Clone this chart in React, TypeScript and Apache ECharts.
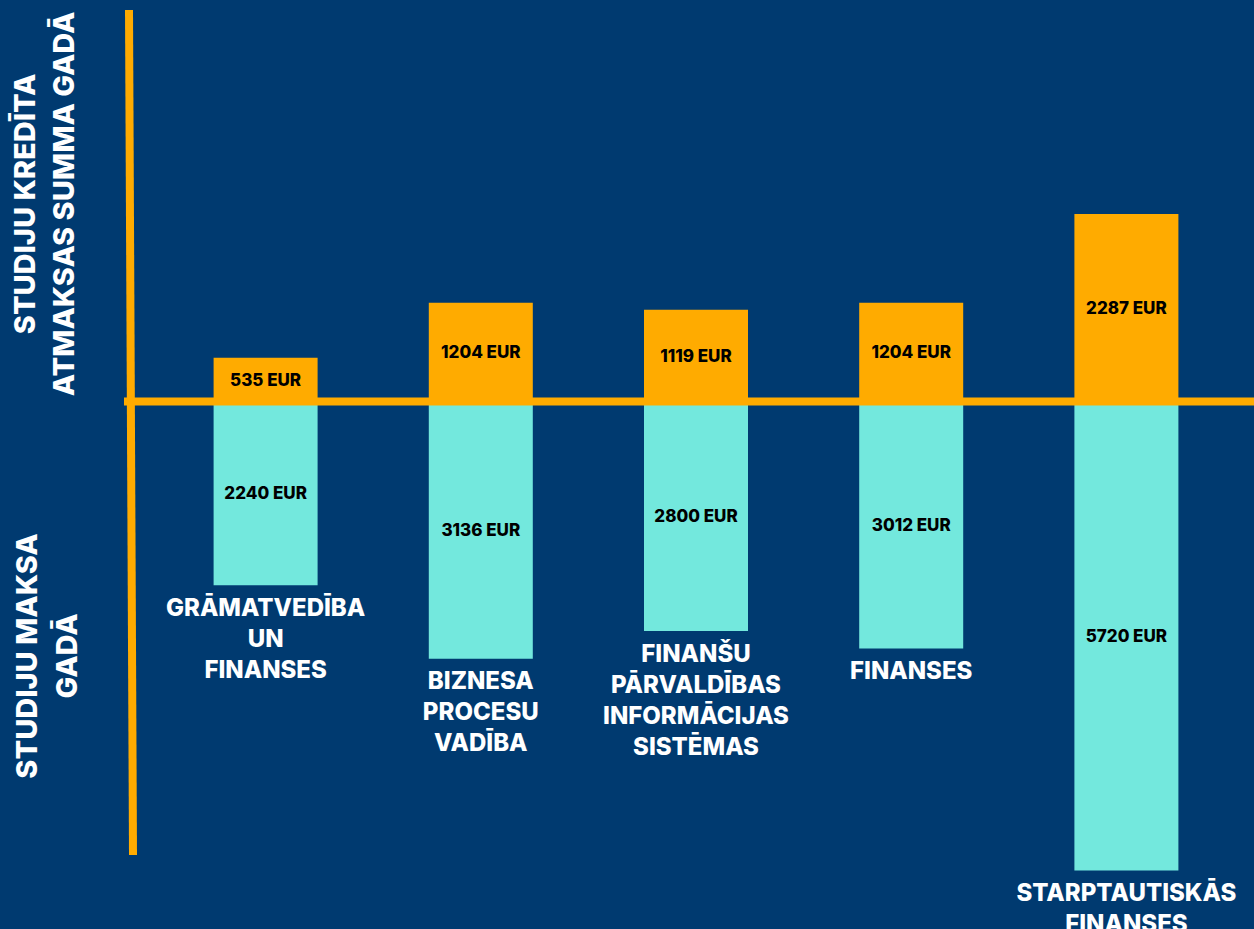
import React, { useEffect, useRef } from "react";
import * as echarts from "echarts";

const categories = [
  "GRĀMATVEDĪBA\nUN\nFINANSES",
  "BIZNESA\nPROCESU\nVADĪBA",
  "FINANŠU\nPĀRVALDĪBAS\nINFORMĀCIJAS\nSISTĒMAS",
  "FINANSES",
  "STARPTAUTISKĀS\nFINANSES",
];
const repaymentPerYear = [535, 1204, 1119, 1204, 2287];
const tuitionPerYear = [2240, 3136, 2800, 3012, 5720];

const upperTitle = "STUDIJU KREDĪTA\nATMAKSAS SUMMA GADĀ";
const lowerTitle = "STUDIJU MAKSA\nGADĀ";

const BG = "#003A70";
const ORANGE = "#FFAB00";
const CYAN = "#73E8DD";
const FONT = "Inter";

export default function App() {
  const ref = useRef<HTMLDivElement>(null);

  useEffect(() => {
    if (!ref.current) return;
    const chart = echarts.init(ref.current, null, { renderer: "svg" });
    const negTuition = tuitionPerYear.map((v) => -v);
    const valueLabel = {
      show: true,
      position: "inside",
      formatter: (p: any) => `${Math.abs(p.value)} EUR`,
      color: "#000000",
      fontFamily: FONT,
      fontWeight: 800,
      fontSize: 17,
    };
    chart.setOption({
      animation: false,
      backgroundColor: BG,
      grid: { left: 158, right: 20, top: 73.5, bottom: 35.5 },
      xAxis: {
        type: "category",
        data: categories,
        show: false,
      },
      yAxis: {
        type: "value",
        min: -6000,
        max: 4000,
        show: false,
        splitLine: { show: false },
      },
      series: [
        {
          type: "bar",
          name: "Atmaksa",
          stack: "total",
          barWidth: 104,
          data: repaymentPerYear,
          itemStyle: { color: ORANGE },
          label: valueLabel,
        },
        {
          type: "bar",
          name: "Maksa",
          stack: "total",
          barWidth: 104,
          data: negTuition,
          itemStyle: { color: CYAN },
          label: valueLabel,
        },
        {
          type: "scatter",
          name: "Programmas",
          data: negTuition,
          symbol: "circle",
          symbolSize: 1,
          itemStyle: { color: "rgba(0,0,0,0)", opacity: 1 },
          silent: true,
          label: {
            show: true,
            position: "bottom",
            distance: 6,
            formatter: (p: any) => categories[p.dataIndex],
            color: "#FFFFFF",
            opacity: 1,
            fontFamily: FONT,
            fontWeight: 800,
            fontSize: 24,
            lineHeight: 31,
            align: "center",
          },
        },
      ],
      graphic: [
        {
          type: "line",
          z: 100,
          shape: { x1: 124, y1: 401.5, x2: 1254, y2: 401.5 },
          style: { stroke: ORANGE, lineWidth: 8 },
        },
        {
          type: "line",
          z: 100,
          shape: { x1: 129, y1: 10, x2: 133, y2: 855 },
          style: { stroke: ORANGE, lineWidth: 8 },
        },
        {
          type: "text",
          x: 44,
          y: 204,
          rotation: Math.PI / 2,
          style: {
            text: upperTitle,
            fill: "#FFFFFF",
            font: `800 29px ${FONT}`,
            lineHeight: 39,
            align: "center",
            verticalAlign: "middle",
          },
        },
        {
          type: "text",
          x: 46,
          y: 656,
          rotation: Math.PI / 2,
          style: {
            text: lowerTitle,
            fill: "#FFFFFF",
            font: `800 29px ${FONT}`,
            lineHeight: 40,
            align: "center",
            verticalAlign: "middle",
          },
        },
      ],
    });
    return () => chart.dispose();
  }, []);

  return (
    <div
      ref={ref}
      style={{ position: "fixed", left: 0, top: 0, width: 1254, height: 929 }}
    />
  );
}
